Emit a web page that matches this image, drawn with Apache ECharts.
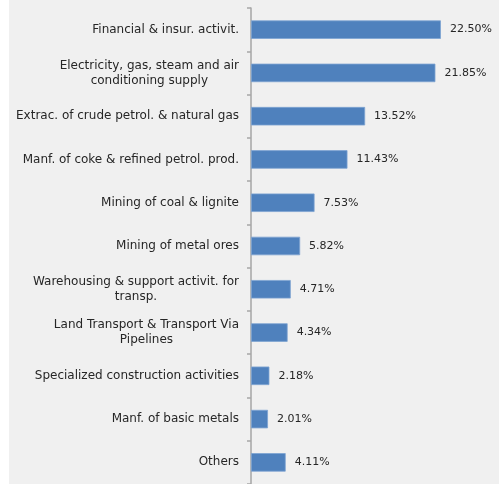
<!DOCTYPE html>
<html>
<head>
<meta charset="utf-8">
<script src="https://cdn.jsdelivr.net/npm/echarts@6/dist/echarts.min.js"></script>
<style>
  html, body { margin: 0; padding: 0; background: #f0f0f0; }
  #chart { width: 499px; height: 484px; }
</style>
</head>
<body>
<div id="chart"></div>
<script>
// Sectors, top to bottom
const sectors = [
  'Financial & insur. activit.',
  'Electricity, gas, steam and air\nconditioning supply',
  'Extrac. of crude petrol. & natural gas',
  'Manf. of coke & refined petrol. prod.',
  'Mining of coal & lignite',
  'Mining of metal ores',
  'Warehousing & support activit. for\ntransp.',
  'Land Transport & Transport Via\nPipelines',
  'Specialized construction activities',
  'Manf. of basic metals',
  'Others'
];
// Share of each sector, in percent
const shares = [22.50, 21.85, 13.52, 11.43, 7.53, 5.82, 4.71, 4.34, 2.18, 2.01, 4.11];

const font = 'DejaVu Sans';
const chart = echarts.init(document.getElementById('chart'), null, { renderer: 'canvas' });
chart.setOption({
  backgroundColor: '#f0f0f0',
  animation: false,
  graphic: [{
    type: 'rect', left: 0, top: 0, z: -10,
    shape: { width: 9, height: 484 },
    style: { fill: '#ffffff' }
  }],
  grid: { left: 251, top: 8, width: 211, height: 480 },
  xAxis: {
    type: 'value', min: 0, max: 25,
    show: false
  },
  yAxis: {
    type: 'category',
    inverse: true,
    data: sectors,
    axisLine: { show: true, lineStyle: { color: '#a6a6a6', width: 1.5 } },
    axisTick: { show: true, length: 4, lineStyle: { color: '#a6a6a6', width: 1.5 } },
    axisLabel: {
      margin: 12,
      align: 'right',
      // each line centred inside the label block
      formatter: v => v.split('\n').map(s => '{c|' + s + '}').join('\n'),
      rich: {
        c: {
          align: 'center',
          color: '#262626',
          fontFamily: font,
          fontSize: 12,
          lineHeight: 15
        }
      }
    }
  },
  series: [{
    type: 'bar',
    data: shares,
    barWidth: 18.5,
    itemStyle: { color: '#4f81bd', borderColor: '#7ea3d2', borderWidth: 0.8 },
    label: {
      show: true,
      position: 'right',
      distance: 9,
      color: '#262626',
      fontFamily: font,
      fontSize: 11,
      formatter: p => p.value.toFixed(2) + '%'
    }
  }]
});
</script>
</body>
</html>
